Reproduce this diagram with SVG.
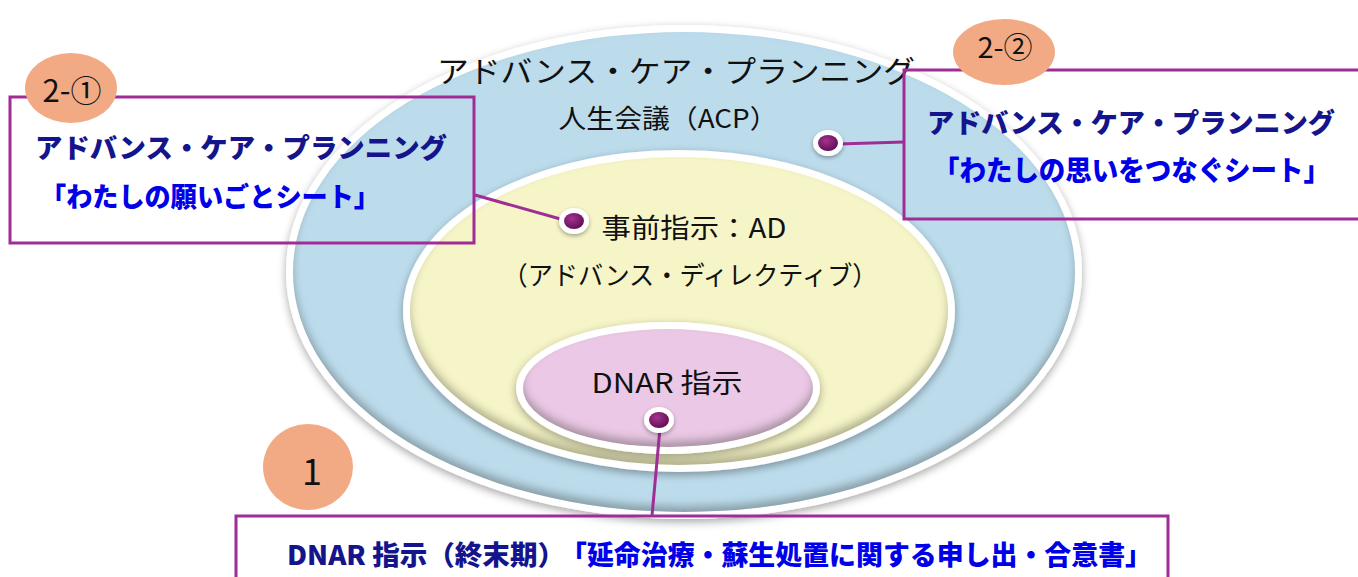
<svg xmlns="http://www.w3.org/2000/svg" width="1358" height="577" viewBox="0 0 1358 577">
<style>
.lbl{font-family:"Noto Sans CJK JP","Noto Sans",sans-serif;fill:#111;}
.pop{font-family:"Noto Sans CJK JP","Noto Sans",sans-serif;font-weight:900;}
.navy{fill:#14148c;}
.blue{fill:#0000e8;}
.box{fill:none;stroke:#a02c96;stroke-width:3;}
.conn{stroke:#a02c96;stroke-width:3;fill:none;}
.rim{fill:#ffffff;filter:url(#drop);}
.badge{fill:#f2aa84;}
.num{font-family:"Noto Sans CJK JP","Liberation Sans",sans-serif;fill:#111;}
</style>
<defs>
<filter id="drop" x="-10%" y="-10%" width="120%" height="125%">
<feDropShadow dx="0" dy="3" stdDeviation="4" flood-color="#000" flood-opacity="0.35"/>
</filter>
<filter id="bevel" x="-5%" y="-5%" width="110%" height="110%">
<feGaussianBlur in="SourceAlpha" stdDeviation="4" result="b"/>
<feOffset in="b" dy="-6" result="ob"/>
<feComposite in="SourceAlpha" in2="ob" operator="out" result="edge"/>
<feFlood flood-color="#3a3a20" flood-opacity="0.55"/>
<feComposite in2="edge" operator="in" result="shade"/>
<feMerge><feMergeNode in="SourceGraphic"/><feMergeNode in="shade"/></feMerge>
</filter>
<filter id="dsh" x="-50%" y="-50%" width="200%" height="200%">
<feDropShadow dx="0" dy="2" stdDeviation="2" flood-color="#000" flood-opacity="0.35"/>
</filter>
<radialGradient id="dotg" cx="0.4" cy="0.35" r="0.7">
<stop offset="0" stop-color="#a6338f"/>
<stop offset="1" stop-color="#5c0c52"/>
</radialGradient>
</defs>
<rect width="1358" height="577" fill="#ffffff"/>

<g id="acp-ellipse">
<ellipse class="rim" cx="684" cy="272" rx="398" ry="247"/>
<ellipse cx="684" cy="272" rx="391" ry="240" fill="#bcdcec" filter="url(#bevel)"/>
<text class="lbl" x="676" y="82" font-size="30" text-anchor="middle" textLength="478" lengthAdjust="spacingAndGlyphs">アドバンス・ケア・プランニング</text>
<text class="lbl" x="668" y="128" font-size="26" text-anchor="middle" textLength="219" lengthAdjust="spacingAndGlyphs">人生会議（ACP）</text>
</g>

<g id="ad-ellipse">
<ellipse class="rim" cx="679" cy="311" rx="276" ry="161"/>
<ellipse cx="679" cy="311" rx="269" ry="154" fill="#f6f5c8" filter="url(#bevel)"/>
<text class="lbl" x="694" y="238" font-size="27" text-anchor="middle" textLength="185" lengthAdjust="spacingAndGlyphs">事前指示：AD</text>
<text class="lbl" x="690" y="285" font-size="26" text-anchor="middle" textLength="375" lengthAdjust="spacingAndGlyphs">（アドバンス・ディレクティブ）</text>
</g>

<g id="dnar-ellipse">
<ellipse class="rim" cx="668" cy="388" rx="152" ry="66"/>
<ellipse cx="668" cy="388" rx="145" ry="59" fill="#ebc9e6" filter="url(#bevel)"/>
<text class="lbl" x="667" y="393" font-size="27" text-anchor="middle" textLength="151" lengthAdjust="spacingAndGlyphs">DNAR 指示</text>
</g>

<g id="connectors">
<line class="conn" x1="838" y1="144" x2="904" y2="142"/>
<line class="conn" x1="475" y1="195" x2="564" y2="220"/>
<line class="conn" x1="660" y1="428" x2="652" y2="516"/>
</g>

<g id="dots">
<g filter="url(#dsh)">
<ellipse cx="828" cy="143" rx="15" ry="13" fill="#fff"/>
<ellipse cx="574" cy="221" rx="15" ry="13" fill="#fff"/>
<ellipse cx="659" cy="420" rx="15" ry="13" fill="#fff"/>
</g>
<ellipse cx="828" cy="143" rx="10" ry="8" fill="url(#dotg)"/>
<ellipse cx="574" cy="221" rx="10" ry="8" fill="url(#dotg)"/>
<ellipse cx="659" cy="420" rx="10" ry="8" fill="url(#dotg)"/>
</g>

<g id="box-2-1">
<rect class="box" x="10" y="97" width="464" height="146"/>
<text class="pop navy" x="35" y="158" font-size="27" textLength="412" lengthAdjust="spacingAndGlyphs">アドバンス・ケア・プランニング</text>
<text class="pop blue" x="40" y="207" font-size="27" textLength="340" lengthAdjust="spacingAndGlyphs">「わたしの願いごとシート」</text>
<ellipse class="badge" cx="71" cy="88" rx="46" ry="35"/>
<text class="num" x="72" y="102" font-size="31" text-anchor="middle">2-①</text>
</g>

<g id="box-2-2">
<rect class="box" x="904" y="70" width="470" height="149"/>
<text class="pop navy" x="927" y="133" font-size="27" textLength="408" lengthAdjust="spacingAndGlyphs">アドバンス・ケア・プランニング</text>
<text class="pop blue" x="933" y="181" font-size="28" textLength="397" lengthAdjust="spacingAndGlyphs">「わたしの思いをつなぐシート」</text>
<ellipse class="badge" cx="1004" cy="52" rx="51" ry="33"/>
<text class="num" x="1005" y="58" font-size="29" text-anchor="middle">2-②</text>
</g>

<g id="box-1">
<rect class="box" x="236" y="516" width="932" height="80"/>
<text class="pop navy" x="287" y="565" font-size="27" textLength="278" lengthAdjust="spacingAndGlyphs">DNAR 指示（終末期）</text>
<text class="pop blue" x="560" y="565" font-size="27" textLength="592" lengthAdjust="spacingAndGlyphs">「延命治療・蘇生処置に関する申し出・合意書」</text>
<ellipse class="badge" cx="308" cy="467" rx="45" ry="43"/>
<text class="num" x="312" y="485" font-size="36" text-anchor="middle">1</text>
</g>
</svg>
